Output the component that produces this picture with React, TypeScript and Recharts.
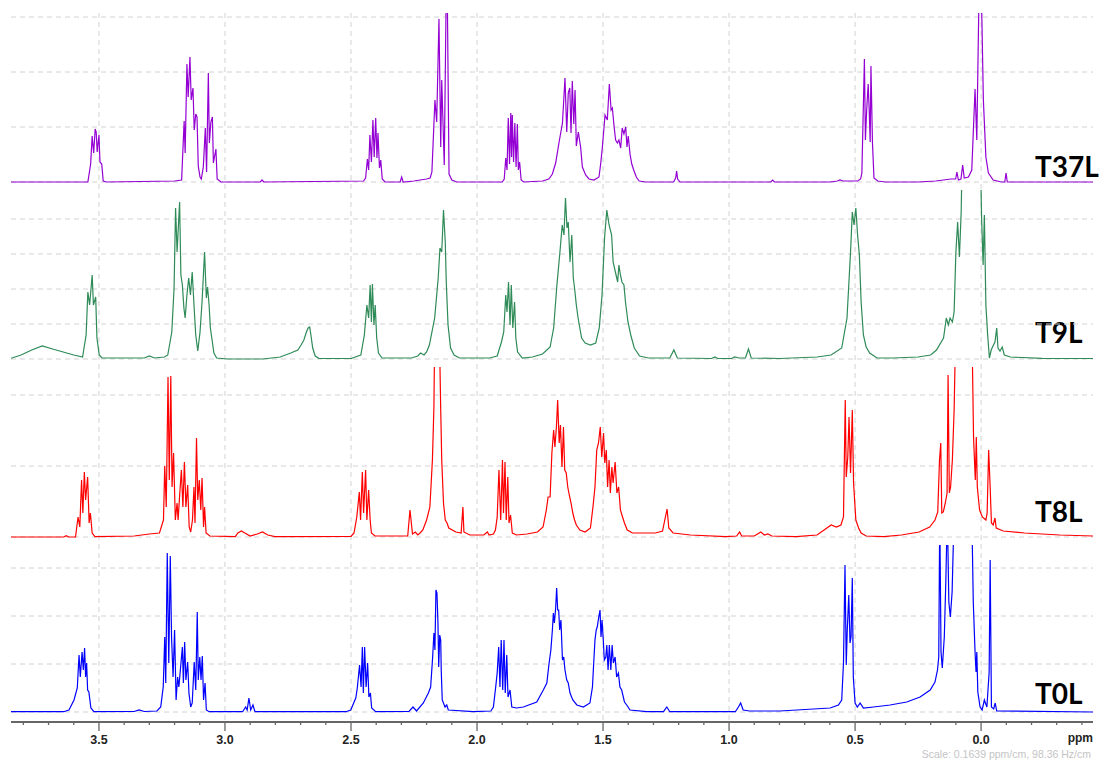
import React from "react";
import {
  LineChart,
  Line,
  XAxis,
  YAxis,
  CartesianGrid,
  Customized,
} from "recharts";

type Pt = [number, number];

// ppm axis (reversed, NMR style)
const PPM_DOMAIN: [number, number] = [-0.444, 3.849];
const majorTicks = [3.5, 3.0, 2.5, 2.0, 1.5, 1.0, 0.5, 0.0];
const allTicks = [
  3.8, 3.7, 3.6, 3.5, 3.4, 3.3, 3.2, 3.1, 3.0, 2.9, 2.8, 2.7, 2.6, 2.5, 2.4,
  2.3, 2.2, 2.1, 2.0, 1.9, 1.8, 1.7, 1.6, 1.5, 1.4, 1.3, 1.2, 1.1, 1.0, 0.9,
  0.8, 0.7, 0.6, 0.5, 0.4, 0.3, 0.2, 0.1, 0.0, -0.1, -0.2, -0.3, -0.4,
];

// spectra: [ppm, intensity]
const t37l: Pt[] = [
  [3.849, 0], [3.544, 0], [3.533, 18], [3.527, 46], [3.521, 29], [3.515, 53], [3.511, 50], [3.507, 30], [3.5, 47], [3.496, 20], [3.489, 18], [3.483, 1], [3.47, 0],
  [3.2, 1], [3.172, 2], [3.162, 61], [3.158, 29], [3.151, 118], [3.146, 85], [3.139, 125], [3.134, 82], [3.127, 94], [3.122, 52], [3.116, 68], [3.111, 65], [3.106, 16], [3.099, 5], [3.094, 3], [3.086, 15], [3.078, 54], [3.073, 10], [3.066, 109], [3.062, 39], [3.056, 60], [3.05, 65], [3.046, 19], [3.036, 33], [3.031, 3], [3.016, 0],
  [2.86, 0], [2.853, 2], [2.846, 0],
  [2.45, 1], [2.442, 4], [2.435, 23], [2.43, 12], [2.425, 47], [2.419, 20], [2.413, 62], [2.408, 25], [2.402, 64], [2.397, 24], [2.393, 49], [2.387, 14], [2.382, 22], [2.376, 3], [2.365, 0],
  [2.305, 0], [2.299, 5], [2.293, 0],
  [2.25, 1], [2.2, 3], [2.186, 4], [2.179, 10], [2.167, 82], [2.16, 60], [2.151, 163], [2.144, 35], [2.14, 102], [2.13, 17], [2.12, 240], [2.111, 8], [2.1, 2], [2.08, 0],
  [1.9, 0], [1.892, 3], [1.886, 24], [1.881, 12], [1.876, 64], [1.871, 18], [1.866, 69], [1.863, 25], [1.86, 67], [1.855, 20], [1.85, 59], [1.845, 15], [1.84, 58], [1.836, 12], [1.831, 20], [1.825, 2], [1.815, 0],
  [1.74, 1], [1.715, 3], [1.701, 8], [1.688, 19], [1.675, 39], [1.661, 59], [1.651, 104], [1.644, 50], [1.638, 89], [1.632, 94], [1.627, 49], [1.622, 101], [1.616, 58], [1.611, 92], [1.606, 36], [1.598, 50], [1.589, 35], [1.582, 15], [1.569, 7], [1.556, 3], [1.536, 2], [1.516, 5],
  [1.509, 19], [1.503, 34], [1.492, 67], [1.483, 62], [1.475, 98], [1.468, 72], [1.463, 74], [1.456, 55], [1.45, 42], [1.443, 39], [1.437, 42], [1.43, 34], [1.424, 54], [1.417, 48], [1.41, 55], [1.405, 35], [1.4, 46], [1.393, 28], [1.386, 18], [1.377, 11], [1.368, 5], [1.357, 1], [1.331, 0],
  [1.22, 0], [1.212, 4], [1.208, 11], [1.204, 3], [1.195, 0],
  [0.835, 0], [0.827, 2], [0.82, 0],
  [0.6, 0], [0.57, 1], [0.56, 2], [0.548, 1], [0.49, 1],
  [0.478, 3], [0.473, 9], [0.463, 123], [0.459, 42], [0.454, 72], [0.448, 98], [0.444, 72], [0.44, 40], [0.437, 116], [0.431, 39], [0.425, 4], [0.41, 1], [0.38, 0],
  [0.25, 0], [0.18, 1], [0.12, 3], [0.101, 3], [0.096, 10], [0.09, 2], [0.08, 3], [0.073, 17], [0.067, 4], [0.05, 5], [0.037, 12], [0.024, 93], [0.017, 42], [0.004, 260], [-0.009, 82], [-0.019, 25], [-0.029, 9], [-0.048, 2], [-0.08, 0], [-0.094, 0], [-0.099, 9], [-0.104, 0],
  [-0.444, 0],
];

const t9l: Pt[] = [
  [3.849, 0.7], [3.809, 4], [3.767, 9], [3.725, 13], [3.684, 10], [3.642, 7], [3.6, 4], [3.565, 2],
  [3.551, 24], [3.544, 67], [3.537, 54], [3.527, 84], [3.522, 54], [3.513, 62], [3.508, 21], [3.499, 4], [3.488, 1],
  [3.32, 1], [3.3, 3], [3.28, 1],
  [3.24, 2], [3.227, 4], [3.211, 27], [3.202, 71], [3.196, 151], [3.19, 107], [3.18, 157], [3.175, 84], [3.169, 74], [3.163, 51], [3.158, 41], [3.151, 64], [3.144, 81], [3.137, 64], [3.13, 87], [3.123, 54], [3.116, 24], [3.108, 8], [3.099, 27], [3.091, 57], [3.081, 107], [3.074, 61], [3.069, 72], [3.063, 54], [3.058, 31], [3.05, 17], [3.044, 6], [3.033, 1], [2.99, 0],
  [2.85, 0], [2.781, 2], [2.739, 6], [2.711, 9], [2.698, 14], [2.687, 19], [2.677, 27], [2.67, 31], [2.664, 32], [2.659, 24], [2.652, 11], [2.642, 3], [2.628, 0.7],
  [2.5, 0.5], [2.461, 4], [2.447, 24], [2.437, 54], [2.43, 41], [2.424, 74], [2.419, 37], [2.415, 75], [2.409, 34], [2.404, 54], [2.398, 21], [2.391, 6], [2.377, 1],
  [2.26, 1], [2.235, 3], [2.224, 6], [2.21, 4], [2.2, 7],
  [2.189, 14], [2.168, 41], [2.154, 81], [2.147, 111], [2.14, 107], [2.133, 149], [2.126, 117], [2.122, 77], [2.115, 34], [2.105, 11], [2.091, 4], [2.07, 1],
  [1.95, 1], [1.92, 3], [1.903, 17], [1.894, 27], [1.886, 64], [1.881, 47], [1.875, 77], [1.869, 34], [1.864, 74], [1.858, 31], [1.851, 57], [1.846, 21], [1.839, 7], [1.82, 1],
  [1.78, 2], [1.74, 5], [1.71, 12], [1.696, 31], [1.683, 74], [1.671, 107], [1.662, 134], [1.655, 124], [1.649, 161], [1.643, 131], [1.638, 137], [1.631, 97], [1.624, 124], [1.618, 81], [1.613, 71], [1.606, 54], [1.599, 41], [1.585, 21], [1.571, 16], [1.55, 14], [1.529, 16], [1.515, 31], [1.504, 64], [1.494, 121], [1.485, 149], [1.476, 134], [1.466, 124], [1.46, 97], [1.451, 87], [1.442, 77], [1.437, 94], [1.431, 84], [1.425, 77], [1.417, 74], [1.411, 57], [1.401, 37], [1.39, 24], [1.376, 11], [1.355, 3], [1.32, 1],
  [1.235, 1], [1.219, 9], [1.205, 1],
  [1.07, 0.5], [1.056, 2], [1.045, 0.5], [0.99, 0.5], [0.978, 2], [0.96, 1], [0.935, 1], [0.923, 10], [0.912, 1],
  [0.8, 0.5], [0.651, 2], [0.595, 4], [0.553, 11], [0.532, 41], [0.518, 107], [0.511, 147], [0.504, 134], [0.497, 151], [0.49, 124], [0.483, 104], [0.476, 57], [0.467, 24], [0.456, 12], [0.442, 6], [0.413, 1],
  [0.35, 1], [0.25, 2], [0.2, 4], [0.177, 9], [0.149, 21], [0.138, 41], [0.13, 34], [0.123, 41], [0.114, 37], [0.107, 47], [0.1, 107], [0.093, 137], [0.086, 102], [0.079, 147], [0.072, 250], [0.04, 300], [0.006, 250],
  [-0.002, 141], [-0.008, 94], [-0.013, 144], [-0.019, 54], [-0.026, 24], [-0.033, 1], [-0.04, 9], [-0.049, 14], [-0.055, 17], [-0.062, 31], [-0.067, 11], [-0.075, 8], [-0.084, 12], [-0.092, 4], [-0.116, 2], [-0.242, 0.7], [-0.444, 0.5],
];

const t8l: Pt[] = [
  [3.849, 0], [3.64, 0], [3.63, 1.3], [3.62, 0],
  [3.593, 0], [3.583, 20], [3.576, 10], [3.569, 57], [3.564, 24], [3.558, 65], [3.553, 37], [3.545, 60], [3.539, 14], [3.534, 24], [3.527, 4], [3.516, 0.3],
  [3.36, 1], [3.3, 3], [3.26, 4],
  [3.244, 17], [3.239, 71], [3.233, 30], [3.226, 160], [3.221, 57], [3.215, 161], [3.21, 50], [3.204, 84], [3.197, 17], [3.19, 34], [3.186, 17], [3.179, 45], [3.173, 67], [3.167, 30], [3.161, 75], [3.155, 30], [3.148, 52], [3.142, 10], [3.136, 5], [3.129, 17], [3.123, 50], [3.119, 14], [3.113, 99], [3.108, 37], [3.102, 57], [3.096, 27], [3.091, 59], [3.085, 10], [3.081, 30], [3.075, 4], [3.06, 1],
  [2.959, 0.3], [2.949, 4], [2.935, 6], [2.921, 4], [2.9, 1], [2.872, 3], [2.851, 5], [2.83, 2], [2.802, 0.3],
  [2.5, 0.5], [2.488, 4], [2.477, 20], [2.467, 45], [2.462, 17], [2.455, 65], [2.45, 24], [2.442, 67], [2.437, 17], [2.43, 47], [2.424, 17], [2.419, 4], [2.405, 1],
  [2.275, 1], [2.266, 27], [2.256, 3], [2.245, 5], [2.235, 2], [2.226, 4], [2.215, 7], [2.2, 17], [2.187, 30], [2.177, 77], [2.171, 130], [2.166, 250], [2.159, 260], [2.149, 200], [2.144, 127], [2.14, 77], [2.133, 34], [2.126, 17], [2.119, 14], [2.112, 9], [2.084, 5], [2.063, 4], [2.056, 30], [2.052, 5], [2.029, 2], [1.973, 2], [1.959, 5], [1.952, 2],
  [1.935, 3], [1.927, 7], [1.92, 20], [1.913, 67], [1.906, 17], [1.899, 77], [1.895, 24], [1.889, 75], [1.884, 17], [1.878, 60], [1.873, 14], [1.867, 22], [1.86, 4], [1.843, 2], [1.802, 3], [1.76, 5], [1.738, 10], [1.725, 27], [1.718, 40],
  [1.71, 40], [1.703, 84], [1.696, 107], [1.691, 90], [1.685, 110], [1.68, 137], [1.674, 94], [1.669, 112], [1.663, 70], [1.657, 110], [1.652, 67], [1.646, 64], [1.64, 50], [1.634, 42], [1.627, 34], [1.62, 24], [1.613, 17], [1.606, 12], [1.592, 7], [1.571, 5], [1.55, 9], [1.54, 30], [1.532, 50], [1.525, 87], [1.518, 94], [1.511, 110], [1.505, 80], [1.498, 104], [1.493, 74], [1.487, 87], [1.482, 50], [1.476, 77], [1.471, 44], [1.465, 70], [1.46, 54], [1.452, 75], [1.445, 44], [1.438, 50], [1.431, 27], [1.425, 22], [1.415, 14], [1.404, 7], [1.383, 4], [1.348, 4], [1.292, 4], [1.264, 6], [1.246, 28], [1.239, 9], [1.222, 4], [1.153, 2], [1.013, 0.3],
  [0.97, 1], [0.958, 5], [0.95, 1], [0.9, 1], [0.874, 5], [0.86, 2], [0.846, 3], [0.83, 1],
  [0.734, 0.3], [0.651, 2], [0.623, 7], [0.595, 12], [0.574, 10], [0.556, 12], [0.546, 20], [0.539, 137], [0.535, 60], [0.529, 80], [0.524, 120], [0.518, 64], [0.511, 127], [0.506, 54], [0.497, 17], [0.486, 9], [0.476, 4], [0.456, 1],
  [0.386, 0.3], [0.316, 2], [0.246, 5], [0.204, 10], [0.183, 17], [0.172, 25], [0.165, 77], [0.16, 94], [0.156, 24], [0.15, 25], [0.142, 34], [0.135, 44], [0.131, 162], [0.126, 44], [0.121, 50], [0.114, 77], [0.107, 127], [0.1, 220], [0.07, 300], [0.037, 220], [0.03, 100], [0.023, 57], [0.019, 100], [0.015, 50], [0.006, 27], [-0.005, 20], [-0.019, 17], [-0.024, 24], [-0.03, 87], [-0.036, 50], [-0.041, 14], [-0.048, 12], [-0.055, 19], [-0.06, 9], [-0.088, 6], [-0.172, 4], [-0.312, 2], [-0.444, 1],
];

const t0l: Pt[] = [
  [3.849, 0.3], [3.64, 0.3], [3.619, 2], [3.599, 12], [3.586, 24], [3.579, 57], [3.574, 35], [3.567, 60], [3.562, 42], [3.557, 64], [3.553, 35], [3.549, 49], [3.545, 22], [3.54, 20], [3.532, 4], [3.52, 0.3],
  [3.36, 0.5], [3.341, 2], [3.32, 0.5],
  [3.27, 1], [3.255, 5], [3.245, 25], [3.239, 75], [3.235, 29], [3.229, 159], [3.223, 49], [3.217, 156], [3.212, 75], [3.206, 35], [3.2, 82], [3.194, 12], [3.188, 35], [3.183, 25], [3.176, 45], [3.169, 65], [3.165, 29], [3.16, 70], [3.155, 32], [3.148, 50], [3.143, 19], [3.136, 5], [3.13, 9], [3.122, 50], [3.116, 22], [3.11, 100], [3.106, 32], [3.1, 55], [3.095, 32], [3.09, 56], [3.085, 12], [3.079, 29], [3.074, 2], [3.063, 0.3],
  [2.93, 0.3], [2.918, 5], [2.912, 2], [2.905, 14], [2.898, 2], [2.889, 7], [2.881, 0.3],
  [2.52, 0.3], [2.501, 2], [2.481, 14], [2.475, 24], [2.466, 47], [2.46, 25], [2.455, 65], [2.451, 19], [2.446, 65], [2.44, 25], [2.434, 49], [2.429, 15], [2.423, 19], [2.418, 4], [2.402, 0.3],
  [2.27, 0.5], [2.254, 5], [2.24, 1],
  [2.213, 9], [2.193, 19], [2.184, 25], [2.176, 55], [2.171, 79], [2.167, 62], [2.163, 122], [2.159, 119], [2.155, 89], [2.152, 45], [2.148, 77], [2.144, 72], [2.142, 42], [2.138, 12], [2.127, 5], [2.12, 7], [2.114, 2], [2.015, 0.3],
  [1.945, 1], [1.935, 5], [1.925, 27], [1.92, 39], [1.914, 65], [1.909, 25], [1.904, 72], [1.898, 22], [1.893, 72], [1.888, 19], [1.882, 57], [1.877, 15], [1.869, 22], [1.862, 5], [1.843, 4],
  [1.816, 5], [1.763, 10], [1.737, 22], [1.723, 29], [1.714, 49], [1.707, 62], [1.701, 82], [1.697, 99], [1.693, 89], [1.688, 104], [1.684, 124], [1.68, 102], [1.676, 102], [1.672, 82], [1.667, 92], [1.661, 52], [1.656, 55], [1.651, 42], [1.644, 32], [1.638, 29], [1.631, 19], [1.62, 12], [1.604, 7], [1.578, 5], [1.552, 9], [1.542, 25], [1.537, 49], [1.532, 72], [1.527, 82], [1.523, 85], [1.517, 95], [1.512, 102], [1.508, 75], [1.504, 92], [1.499, 72], [1.495, 52], [1.489, 55], [1.485, 67], [1.48, 42], [1.475, 67], [1.469, 42], [1.464, 67], [1.459, 49], [1.452, 55], [1.446, 35], [1.439, 39], [1.433, 25], [1.426, 22], [1.415, 10], [1.406, 7], [1.393, 2], [1.327, 0.3],
  [1.26, 0.3], [1.247, 5], [1.235, 0.3],
  [0.975, 0.3], [0.963, 5], [0.954, 9], [0.944, 2], [0.92, 1],
  [0.798, 1], [0.599, 4], [0.566, 7], [0.553, 12], [0.546, 49], [0.54, 147], [0.535, 47], [0.531, 82], [0.525, 117], [0.52, 69], [0.516, 75], [0.511, 134], [0.507, 35], [0.5, 9], [0.491, 5], [0.48, 9], [0.467, 4], [0.427, 5], [0.361, 7], [0.295, 10], [0.242, 15], [0.202, 22], [0.183, 30], [0.173, 42], [0.168, 55], [0.164, 200], [0.159, 60], [0.154, 44], [0.146, 75], [0.14, 130], [0.134, 200], [0.128, 110], [0.122, 95], [0.115, 120], [0.107, 200], [0.07, 320], [0.037, 200], [0.031, 110], [0.024, 60], [0.02, 40], [0.017, 60], [0.013, 20], [0.004, 5], [-0.004, 2], [-0.013, 12], [-0.023, 5], [-0.032, 40], [-0.036, 152], [-0.041, 5], [-0.05, 3], [-0.056, 9], [-0.062, 1], [-0.444, 0],
];

const labels = ["T37L", "T9L", "T8L", "T0L"];
const colors = ["#9400d3", "#2e8b57", "#ff0000", "#0000ff"];
const gridTicks = [
  [0, 55, 110, 165],
  [0, 35, 70, 105, 140],
  [0, 71, 142],
  [0, 48, 96, 144],
];

// panel placement on the page
const panels = [
  { top: 13, span: 169, label: 177 },
  { top: 190, span: 169, label: 343 },
  { top: 367, span: 170, label: 522 },
  { top: 545, span: 167, label: 704 },
];

const toRows = (pts: Pt[]) => pts.map(([ppm, h]) => ({ ppm, h }));
const spectra = [t37l, t9l, t8l, t0l].map(toRows);

const W = 1101;
const H = 763;
const M = { left: 11, right: 8 };
const tickFont = "'Liberation Sans', Arial, sans-serif";

const AxisTick = (props: any) => {
  const { x, y, payload } = props;
  const v = payload.value as number;
  const major = majorTicks.includes(v);
  return (
    <g>
      <line x1={x} x2={x} y1={y} y2={y + (major ? 9 : 3)} stroke="#666" strokeWidth={1.3} />
      {major && (
        <text x={x} y={y + 22} textAnchor="middle" fontFamily={tickFont} fontWeight="bold" fontSize={12.5} fill="#222">
          {v.toFixed(1)}
        </text>
      )}
    </g>
  );
};

const Texts = () => (
  <g>
    {labels.map((t, i) => (
      <text key={t} x={1035} y={panels[i].label} fontFamily="Lato, 'Open Sans', sans-serif" fontWeight="bold" fontSize={28} fill="#000">
        {t}
      </text>
    ))}
    <text x={1093} y={742} textAnchor="end" fontFamily={tickFont} fontWeight="bold" fontSize={12} fill="#222">
      ppm
    </text>
    <text x={1091} y={758} textAnchor="end" fontFamily={tickFont} fontSize={10.5} fill="#c4c4c4">
      Scale: 0.1639 ppm/cm, 98.36 Hz/cm
    </text>
  </g>
);

export default function App() {
  return (
    <div style={{ position: "absolute", left: 0, top: 0, width: W, height: H, background: "#fff" }}>
      {/* frame: vertical grid (hidden axis 0 with 0.5 ppm ticks), visible ppm axis, labels */}
      <div style={{ position: "absolute", left: 0, top: 0 }}>
        <LineChart width={W} height={H} data={spectra[3]} margin={{ top: 13, right: M.right, bottom: 0, left: M.left }}>
          <CartesianGrid horizontal={false} syncWithTicks stroke="#d2d2d2" strokeDasharray="5 4" />
          <XAxis
            type="number"
            dataKey="ppm"
            domain={PPM_DOMAIN}
            reversed
            allowDataOverflow
            ticks={majorTicks}
            interval={0}
            height={0}
            hide
          />
          <XAxis
            xAxisId="axis"
            type="number"
            dataKey="ppm"
            domain={PPM_DOMAIN}
            reversed
            allowDataOverflow
            ticks={allTicks}
            interval={0}
            height={41}
            tickSize={0}
            tickMargin={0}
            tickLine={false}
            tick={<AxisTick />}
            axisLine={{ stroke: "#666", strokeWidth: 2 }}
          />
          <YAxis hide domain={[0, 1]} />
          <Customized component={Texts} />
        </LineChart>
      </div>
      {panels.map((p, i) => (
        <div key={labels[i]} style={{ position: "absolute", left: 0, top: p.top }}>
          <LineChart width={W} height={p.span + 2} data={spectra[i]} margin={{ top: 0, right: M.right, bottom: 0, left: M.left }}>
            <CartesianGrid vertical={false} syncWithTicks stroke="#d2d2d2" strokeDasharray="5 4" />
            <XAxis type="number" dataKey="ppm" domain={PPM_DOMAIN} reversed hide allowDataOverflow />
            <YAxis hide domain={[-2, p.span]} ticks={gridTicks[i]} interval={0} allowDataOverflow />
            <Line
              type="linear"
              dataKey="h"
              stroke={colors[i]}
              strokeWidth={1.2}
              dot={false}
              activeDot={false}
              isAnimationActive={false}
            />
          </LineChart>
        </div>
      ))}
    </div>
  );
}
